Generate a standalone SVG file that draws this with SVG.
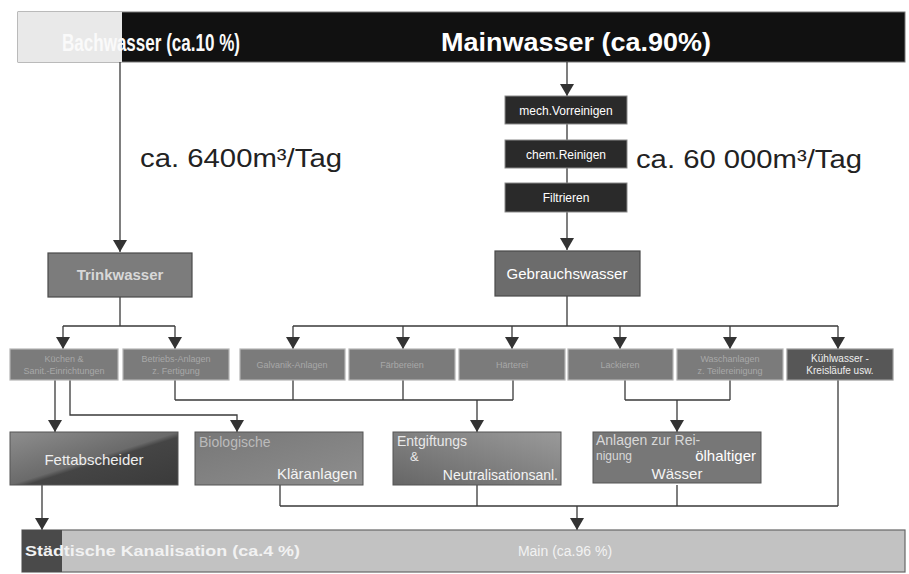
<svg xmlns="http://www.w3.org/2000/svg" width="909" height="574" viewBox="0 0 909 574">
<defs>
<marker id="arr" viewBox="0 -7 12 14" refX="12" refY="0" markerWidth="12" markerHeight="14" markerUnits="userSpaceOnUse" orient="auto">
<path d="M0,-7 L12,0 L0,7 z" fill="#333"/>
</marker>
<linearGradient id="gFett" x1="0" y1="0" x2="1" y2="1">
<stop offset="0" stop-color="#8e8e8e"/><stop offset="0.5" stop-color="#6a6a6a"/><stop offset="0.55" stop-color="#454545"/><stop offset="1" stop-color="#3a3a3a"/>
</linearGradient>
<linearGradient id="gBio" x1="0" y1="0" x2="1" y2="1">
<stop offset="0" stop-color="#777"/><stop offset="1" stop-color="#8e8e8e"/>
</linearGradient>
<linearGradient id="gEnt" x1="0" y1="1" x2="1" y2="0">
<stop offset="0" stop-color="#666"/><stop offset="1" stop-color="#9a9a9a"/>
</linearGradient>
</defs>
<style>
text{font-family:"Liberation Sans",Arial,sans-serif}
.c{fill:none;stroke:#3a3a3a;stroke-width:1.3}
.a{marker-end:url(#arr)}
.dark{fill:#2a2a2a;stroke:#8a8a8a;stroke-width:1}
.mid{fill:#7b7b7b;stroke:#b5b5b5;stroke-width:1.2}
.sm{font-size:9px;fill:#a8a8a8;text-anchor:middle}
.wt{fill:#fff;text-anchor:middle}
.big{font-size:26px;fill:#222}
</style>
<rect width="909" height="574" fill="#fff"/>

<g id="top">
<rect x="18" y="12" width="887" height="50" fill="#111" stroke="#777" stroke-width="1"/>
<rect x="18" y="12" width="104" height="50" fill="#e9e9e9"/>
<text x="62" y="51" font-size="24" font-weight="bold" fill="#fafafa" textLength="178" lengthAdjust="spacingAndGlyphs">Bachwasser (ca.10 %)</text>
<text x="576" y="51" font-size="25" font-weight="bold" fill="#fff" text-anchor="middle" textLength="270" lengthAdjust="spacingAndGlyphs">Mainwasser (ca.90%)</text>
</g>

<g id="connectors">
<path class="c a" d="M120,62 V252"/>
<path class="c a" d="M567,62 V96"/>
<path class="c" d="M567,124 V140 M567,168 V183"/>
<path class="c a" d="M567,212 V250"/>
<path class="c" d="M120,297 V326 M63,326 H175"/>
<path class="c a" d="M63,326 V349"/>
<path class="c a" d="M175,326 V349"/>
<path class="c" d="M567,296 V326 M293,326 H838"/>
<path class="c a" d="M293,326 V349"/>
<path class="c a" d="M403,326 V349"/>
<path class="c a" d="M512,326 V349"/>
<path class="c a" d="M620,326 V349"/>
<path class="c a" d="M730,326 V349"/>
<path class="c a" d="M838,326 V349"/>
<path class="c a" d="M55,380 V432"/>
<path class="c a" d="M70,380 V415 H237 V432"/>
<path class="c" d="M175,380 V400 M293,380 V400 M403,380 V400 M513,380 V400 M175,400 H513"/>
<path class="c a" d="M477,400 V432"/>
<path class="c" d="M625,380 V400 M730,380 V400 M625,400 H730"/>
<path class="c a" d="M677,400 V432"/>
<path class="c" d="M838,380 V506 M280,485 V506 M477,485 V506 M677,485 V506 M280,506 H838"/>
<path class="c a" d="M577,506 V530"/>
<path class="c a" d="M42,485 V530"/>
</g>

<g id="mech">
<rect class="dark" x="505" y="96" width="122" height="28"/>
<text class="wt" x="566" y="115" font-size="12">mech.Vorreinigen</text>
</g>
<g id="chem">
<rect class="dark" x="505" y="140" width="122" height="28"/>
<text class="wt" x="566" y="159" font-size="12">chem.Reinigen</text>
</g>
<g id="filt">
<rect class="dark" x="505" y="183" width="122" height="29"/>
<text class="wt" x="566" y="202" font-size="12">Filtrieren</text>
</g>

<text class="big" x="140" y="167" textLength="202" lengthAdjust="spacingAndGlyphs">ca. 6400m³/Tag</text>
<text class="big" x="636" y="168" textLength="226" lengthAdjust="spacingAndGlyphs">ca. 60 000m³/Tag</text>

<g id="trink">
<rect x="48" y="253" width="144" height="44" fill="#7c7c7c" stroke="#4a4a4a" stroke-width="1.2"/>
<text x="120" y="280" font-size="15" font-weight="bold" fill="#d8d8d8" text-anchor="middle">Trinkwasser</text>
</g>
<g id="gebr">
<rect x="495" y="251" width="145" height="45" fill="#6c6c6c" stroke="#4a4a4a" stroke-width="1.2"/>
<text class="wt" x="567" y="279" font-size="15">Gebrauchswasser</text>
</g>

<g id="b1"><rect class="mid" x="10" y="349" width="108" height="31"/>
<text class="sm" x="64" y="362">Küchen &amp;</text><text class="sm" x="64" y="374">Sanit.-Einrichtungen</text></g>
<g id="b2"><rect class="mid" x="123" y="349" width="106" height="31"/>
<text class="sm" x="176" y="362">Betriebs-Anlagen</text><text class="sm" x="176" y="374">z. Fertigung</text></g>
<g id="b3"><rect class="mid" x="240" y="349" width="105" height="31"/>
<text class="sm" x="292" y="368">Galvanik-Anlagen</text></g>
<g id="b4"><rect class="mid" x="349" y="349" width="106" height="31"/>
<text class="sm" x="402" y="368">Färbereien</text></g>
<g id="b5"><rect class="mid" x="459" y="349" width="106" height="31"/>
<text class="sm" x="512" y="368">Härterei</text></g>
<g id="b6"><rect class="mid" x="568" y="349" width="105" height="31"/>
<text class="sm" x="620" y="368">Lackieren</text></g>
<g id="b7"><rect class="mid" x="677" y="349" width="106" height="31" fill="#6d6d6d"/>
<text class="sm" x="730" y="362">Waschanlagen</text><text class="sm" x="730" y="374">z. Teilereinigung</text></g>
<g id="b8"><rect x="787" y="349" width="106" height="31" fill="#575757" stroke="#999" stroke-width="1.2"/>
<text x="840" y="362" font-size="10" fill="#eee" text-anchor="middle">Kühlwasser -</text>
<text x="840" y="374" font-size="10" fill="#eee" text-anchor="middle">Kreisläufe usw.</text></g>

<g id="fett">
<rect x="10" y="432" width="168" height="53" fill="url(#gFett)" stroke="#555" stroke-width="1"/>
<text x="94" y="465" font-size="15" fill="#eee" text-anchor="middle">Fettabscheider</text>
</g>
<g id="bio">
<rect x="195" y="432" width="168" height="53" fill="url(#gBio)" stroke="#555" stroke-width="1"/>
<text x="199" y="447" font-size="14" fill="#bbb">Biologische</text>
<text x="357" y="479" font-size="15" fill="#f4f4f4" text-anchor="end">Kläranlagen</text>
</g>
<g id="ent">
<rect x="393" y="432" width="168" height="53" fill="url(#gEnt)" stroke="#555" stroke-width="1"/>
<text x="397" y="446" font-size="14" fill="#e8e8e8">Entgiftungs</text>
<text x="410" y="461" font-size="13" fill="#e8e8e8">&amp;</text>
<text x="558" y="480" font-size="14" fill="#f4f4f4" text-anchor="end">Neutralisationsanl.</text>
</g>
<g id="anl">
<rect x="593" y="432" width="168" height="51" fill="#777" stroke="#555" stroke-width="1"/>
<text x="596" y="445" font-size="14" fill="#d8d8d8">Anlagen zur Rei-</text>
<text x="596" y="460" font-size="12" fill="#d8d8d8">nigung</text>
<text x="756" y="461" font-size="15" fill="#fff" text-anchor="end">ölhaltiger</text>
<text x="677" y="479" font-size="15" fill="#f4f4f4" text-anchor="middle">Wässer</text>
</g>

<g id="bottom">
<rect x="22" y="530" width="883" height="42" fill="#c2c2c2" stroke="#666" stroke-width="1.2"/>
<rect x="22" y="530" width="40" height="42" fill="#4a4a4a"/>
<text x="25" y="556" font-size="14" font-weight="bold" fill="#f2f2f2" textLength="275" lengthAdjust="spacingAndGlyphs">Städtische Kanalisation (ca.4 %)</text>
<text x="565" y="556" font-size="14" fill="#f2f2f2" text-anchor="middle">Main (ca.96 %)</text>
</g>
</svg>
